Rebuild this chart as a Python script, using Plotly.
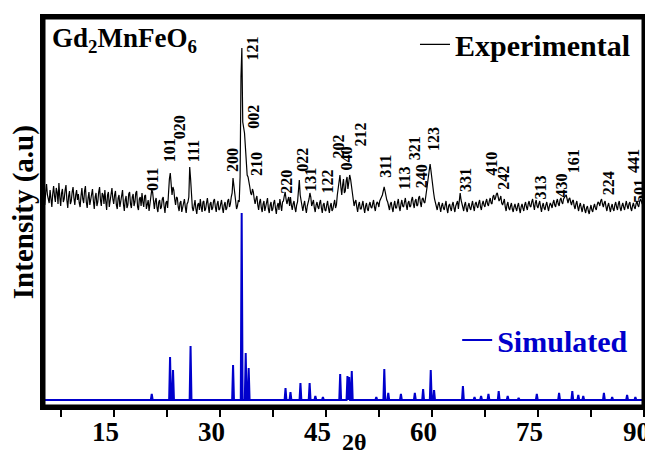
import plotly.graph_objects as go

# ---------------- data ----------------
# Experimental pattern (intensity, a.u.).
# exp_main: values at 2theta = 5.00, 5.25, ..., 90.00
# exp_mid:  values at 2theta = 5.125, 5.375, ..., 89.875
exp_start = 5.0
exp_step = 0.125
exp_main = [
    28, 12, 33, 17, 27, 10, 31, 15, 25, 34, 11, 28, 18, 32, 9, 26, 16, 30, 12, 27,
    23, 10, 29, 14, 31, 9, 25, 17, 28, 8, 24, 15, 30, 11, 22, 27, 7, 25, 16, 29,
    13, 26, 8, 22, 16, 27, 6, 21, 12, 25, 9, 23, 15, 26, 7, 20, 24, 10, 22, 14,
    6, 20, 25, 8, 19, 5, 17, 10, 20, 4, 16, 28, 44, 22, 27, 12, 19, 6, 16, 9,
    18, 4, 15, 50, 20, 6, 17, 3, 14, 18, 5, 16, 8, 19, 4, 15, 9, 18, 5, 16,
    8, 17, 4, 15, 9, 18, 13, 24, 30, 18, 11, 15, 140, 95, 84, 48, 40, 30, 22, 25,
    13, 21, 7, 18, 5, 16, 10, 19, 4, 15, 8, 17, 3, 14, 18, 6, 16, 25, 13, 20,
    20, 7, 16, 5, 15, 37, 16, 6, 16, 4, 14, 24, 11, 17, 5, 15, 8, 17, 4, 14,
    6, 16, 4, 14, 8, 17, 12, 30, 42, 22, 38, 26, 40, 33, 38, 22, 11, 17, 5, 15,
    8, 16, 4, 14, 6, 15, 9, 17, 6, 15, 10, 19, 22, 30, 20, 15, 7, 15, 5, 16,
    9, 18, 6, 17, 10, 19, 7, 16, 11, 20, 9, 18, 12, 21, 10, 19, 14, 25, 40, 53,
    36, 24, 13, 7, 15, 5, 14, 7, 16, 4, 13, 6, 15, 5, 14, 8, 24, 13, 6, 15,
    5, 14, 7, 16, 6, 15, 9, 17, 7, 16, 10, 18, 11, 19, 13, 22, 19, 24, 16, 21,
    12, 18, 6, 15, 7, 14, 5, 13, 6, 14, 4, 13, 6, 15, 7, 16, 10, 18, 7, 17,
    9, 16, 5, 14, 7, 15, 6, 14, 9, 17, 10, 18, 11, 19, 13, 20, 22, 14, 19, 12,
    17, 8, 16, 6, 14, 5, 13, 4, 11, 3, 12, 5, 13, 7, 15, 11, 18, 10, 16, 6,
    14, 5, 13, 6, 15, 7, 16, 6, 14, 7, 16, 8, 15, 6, 14, 8, 16, 10, 18, 13,
    20,
]
exp_mid = [
    19, 24, 22, 14, 20, 23, 21, 29, 13, 20, 24, 15, 27, 17, 21, 13, 25, 19, 22, 17,
    14, 21, 18, 26, 15, 19, 12, 26, 16, 20, 11, 25, 17, 24, 13, 16, 22, 10, 27, 18,
    22, 12, 19, 10, 24, 13, 17, 9, 23, 13, 20, 11, 24, 10, 18, 11, 15, 21, 8, 17,
    14, 27, 12, 16, 9, 15, 8, 18, 11, 14, 9, 38, 32, 30, 18, 20, 10, 14, 5, 16,
    10, 13, 20, 38, 9, 14, 8, 12, 7, 10, 15, 6, 14, 11, 13, 7, 16, 10, 13, 7,
    13, 9, 12, 7, 16, 10, 20, 39, 20, 8, 17, 40, 169, 88, 70, 42, 36, 24, 28, 18,
    18, 12, 15, 9, 13, 6, 15, 8, 12, 6, 14, 9, 11, 7, 12, 15, 21, 18, 17, 11,
    12, 13, 9, 12, 26, 22, 10, 12, 9, 11, 18, 20, 14, 9, 12, 10, 14, 9, 12, 7,
    12, 9, 11, 6, 13, 9, 22, 36, 30, 32, 24, 36, 28, 42, 30, 14, 15, 10, 12, 8,
    12, 9, 11, 8, 12, 10, 13, 10, 12, 14, 16, 20, 27, 26, 17, 11, 13, 9, 12, 9,
    14, 10, 13, 11, 15, 12, 14, 10, 17, 13, 16, 11, 19, 14, 18, 15, 20, 33, 48, 46,
    30, 18, 9, 12, 10, 11, 9, 12, 8, 11, 9, 12, 9, 11, 16, 20, 17, 9, 12, 8,
    11, 9, 12, 10, 13, 11, 14, 10, 13, 12, 15, 13, 16, 14, 20, 17, 23, 20, 18, 14,
    15, 10, 12, 9, 11, 8, 10, 9, 11, 8, 10, 9, 12, 10, 13, 11, 15, 12, 14, 11,
    13, 10, 11, 9, 12, 10, 11, 12, 14, 12, 15, 13, 17, 15, 18, 21, 17, 18, 15, 16,
    11, 13, 10, 11, 9, 10, 7, 9, 6, 8, 7, 10, 9, 12, 14, 16, 13, 14, 10, 11,
    9, 10, 8, 12, 10, 13, 9, 11, 10, 12, 11, 13, 9, 11, 10, 13, 12, 15, 16, 18,
]

# Simulated pattern: peak positions (2theta) and heights (a.u.)
sim_pos = [20.38, 22.97, 23.39, 25.87, 31.88, 33.10, 33.67, 34.09, 39.30, 40.00,
           41.41, 42.71, 43.52, 44.59, 47.03, 48.06, 48.30, 48.67, 52.14, 53.27,
           53.83, 55.62, 57.59, 58.76, 59.84, 60.31, 64.39, 66.03, 66.96, 68.00,
           69.45, 70.72, 72.27, 74.84, 77.99, 79.86, 80.71, 81.41, 84.33, 85.50,
           87.61, 88.78]
sim_height = [6, 43, 30, 54, 35, 187, 47, 32, 12, 8,
              17, 17, 4, 3, 26, 24, 23, 29, 3, 31,
              7, 6, 7, 11, 30, 10, 14, 3, 4, 6,
              9, 4, 2, 6, 7, 9, 5, 4, 7, 3,
              5, 3]

# Miller-index labels: text, 2theta, height
hkl_text = ["011", "101", "020", "111", "200", "121", "002", "210", "220", "022",
            "131", "122", "202", "040", "212", "311", "113", "321", "240", "123",
            "331", "410", "242", "313", "430", "161", "224", "441", "501"]
hkl_x = [20.48, 22.87, 24.28, 26.25, 31.74, 34.5, 34.65, 35.12, 39.34, 41.59,
         42.71, 45.11, 46.66, 47.79, 49.89, 53.41, 56.08, 57.49, 58.48, 60.17,
         64.67, 68.33, 70.02, 75.22, 78.32, 80.01, 84.93, 88.45, 89.3]
hkl_y = [215, 244, 267, 244, 234, 345, 277, 230, 212, 234,
         214, 212, 247, 235, 260, 228, 216, 246, 218, 255,
         214, 230, 216, 206, 209, 233, 211, 233, 203]

x_ticks = [15, 30, 45, 60, 75, 90]
x_minor_ticks = [7.5, 22.5, 37.5, 52.5, 67.5, 82.5]

# ---------------- styling constants ----------------
X_RANGE = [5, 90]
Y_RANGE = [0, 390]
EXP_OFFSET = 190
SIM_OFFSET = 7
SIM_HALF_WIDTH = 0.13
BLUE = "#0000CC"
FONT = "Liberation Serif"

exp_vals = []
for i, v in enumerate(exp_main):
    exp_vals.append(v)
    if i < len(exp_mid):
        exp_vals.append(exp_mid[i])
exp_x = [exp_start + exp_step * k for k in range(len(exp_vals))]
exp_y = [EXP_OFFSET + v for v in exp_vals]

sim_x = [X_RANGE[0]]
sim_y = [SIM_OFFSET]
for p, h in zip(sim_pos, sim_height):
    sim_x += [p - SIM_HALF_WIDTH, p, p + SIM_HALF_WIDTH]
    sim_y += [SIM_OFFSET, SIM_OFFSET + h, SIM_OFFSET]
sim_x.append(X_RANGE[1])
sim_y.append(SIM_OFFSET)

fig = go.Figure()
fig.add_trace(go.Scatter(x=exp_x, y=exp_y, mode="lines", name="Experimental",
                         line=dict(color="black", width=1.2), legend="legend"))
fig.add_trace(go.Scatter(x=sim_x, y=sim_y, mode="lines", name="Simulated",
                         line=dict(color=BLUE, width=2), legend="legend2"))
# plot frame along the axis range (half of the line is clipped by the plot area)
fig.add_trace(go.Scatter(
    x=[X_RANGE[0], X_RANGE[1], X_RANGE[1], X_RANGE[0], X_RANGE[0]],
    y=[Y_RANGE[0], Y_RANGE[0], Y_RANGE[1], Y_RANGE[1], Y_RANGE[0]],
    mode="lines", line=dict(color="black", width=5), showlegend=False,
    hoverinfo="skip"))

for t, x, y in zip(hkl_text, hkl_x, hkl_y):
    fig.add_annotation(x=x, y=y, text=t, textangle=-90, showarrow=False,
                       xanchor="center", yanchor="bottom", borderpad=0,
                       font=dict(family=FONT, size=16, color="black", weight="bold"))

# x tick labels (drawn slightly left of their ticks, as in the original)
for v in x_ticks:
    fig.add_annotation(x=v, y=0, xref="x", yref="paper", text=str(v),
                       showarrow=False, xanchor="center", yanchor="top",
                       xshift=-8, yshift=-8,
                       font=dict(family=FONT, size=27, color="black", weight="bold"))

fig.add_annotation(x=0.012, y=0.99, xref="paper", yref="paper",
                   text="Gd<sub>2</sub>MnFeO<sub>6</sub>", showarrow=False,
                   xanchor="left", yanchor="top",
                   font=dict(family=FONT, size=27, color="black", weight="bold"))

fig.add_annotation(x=0.518, y=-0.09, xref="paper", yref="paper",
                   text="2θ", showarrow=False, xanchor="center", yanchor="middle",
                   font=dict(family=FONT, size=24, color="black", weight="bold"))

fig.add_annotation(x=-0.033, y=0.50, xref="paper", yref="paper",
                   text="Intensity (a.u)", textangle=-90, showarrow=False,
                   xanchor="center", yanchor="middle",
                   font=dict(family=FONT, size=29, color="black", weight="bold"))

# The page body adds an 8px offset, so the figure is 8px smaller and margins shifted.
fig.update_layout(
    width=645, height=446,
    margin=dict(l=35, r=6, t=9, b=47),
    paper_bgcolor="white", plot_bgcolor="white",
    showlegend=True,
    legend=dict(x=0.985, y=0.93, xanchor="right", yanchor="middle",
                bgcolor="rgba(0,0,0,0)",
                font=dict(family=FONT, size=30, color="black", weight="bold")),
    legend2=dict(x=0.982, y=0.172, xanchor="right", yanchor="middle",
                 bgcolor="rgba(0,0,0,0)",
                 font=dict(family=FONT, size=30, color=BLUE, weight="bold")),
    xaxis=dict(range=X_RANGE, tickvals=x_ticks, showticklabels=False,
               ticks="outside", ticklen=7, tickwidth=2, tickcolor="black",
               minor=dict(tickvals=x_minor_ticks, ticks="outside",
                          ticklen=7, tickwidth=2, tickcolor="black"),
               showline=True, linewidth=3, linecolor="black", mirror=True,
               showgrid=False, zeroline=False),
    yaxis=dict(range=Y_RANGE, showticklabels=False, ticks="",
               showline=True, linewidth=3, linecolor="black", mirror=True,
               showgrid=False, zeroline=False),
)

fig.write_html("out.html")
